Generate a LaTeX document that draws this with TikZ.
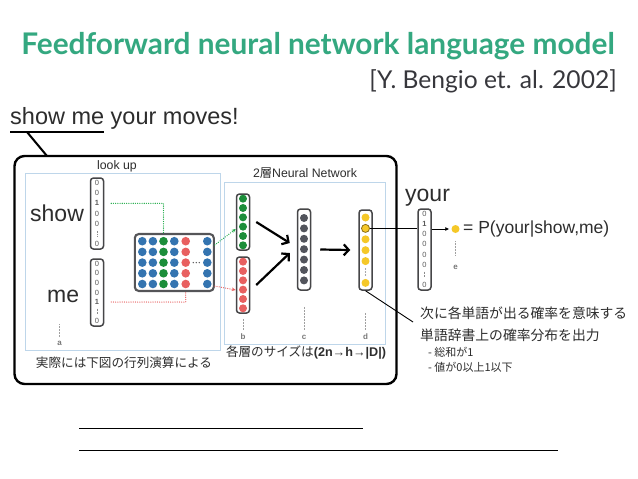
\documentclass[tikz,border=0pt]{standalone}
\usepackage{fontspec}
\setmainfont{Liberation Sans}
\newfontfamily\jpf{Noto Sans CJK JP}
\newfontfamily\latof{Lato}
\usetikzlibrary{arrows.meta,calc}
\definecolor{ttl}{RGB}{52,168,128}
\definecolor{bengc}{RGB}{55,55,60}
\definecolor{txtc}{RGB}{45,45,45}
\definecolor{vecc}{RGB}{70,70,72}
\definecolor{matc}{RGB}{85,85,88}
\definecolor{digc}{RGB}{90,90,90}
\definecolor{lblc}{RGB}{120,120,120}
\definecolor{frc}{RGB}{190,214,234}
\definecolor{blu}{RGB}{52,116,176}
\definecolor{grn}{RGB}{28,142,58}
\definecolor{grnl}{RGB}{30,170,70}
\definecolor{redc}{RGB}{232,96,96}
\definecolor{gryc}{RGB}{82,84,92}
\definecolor{ylw}{RGB}{245,200,40}
\definecolor{ylwd}{RGB}{140,110,20}
\begin{document}
\begin{tikzpicture}[x=1pt,y=-1pt,
  vecbox/.style={draw=vecc, line width=1.5, rounded corners=3, inner sep=0, minimum width=13},
  cdot/.style={circle, inner sep=0, minimum size=8},
  mdot/.style={circle, inner sep=0, minimum size=8.6},
  dig/.style={font=\fontsize{7.5}{8}\selectfont, text=digc, inner sep=0},
  vd/.style={draw=digc!70, dash pattern=on 0.8pt off 0.8pt, line width=0.6},
  lbl/.style={font=\bfseries\fontsize{8}{9}\selectfont, text=lblc, inner sep=0},
  leader/.style={draw=lblc!70, dash pattern=on 0.6pt off 0.9pt, line width=0.6},
  frame/.style={draw=frc, line width=0.8},
  bigarr/.style={line width=2.2, -{Straight Barb[length=5pt,width=11pt]}},
  gdot/.style={draw=grnl, line width=1.3, line cap=round, dash pattern=on 0pt off 2.2pt},
  rdot/.style={draw=redc, line width=1.3, line cap=round, dash pattern=on 0pt off 2.2pt},
  bigword/.style={font=\fontsize{23}{26}\selectfont, text=txtc, inner sep=0, anchor=base west},
  jptext/.style={font=\jpf\fontsize{13.8}{15}\selectfont, text=txtc, inner sep=0, anchor=west},
  jpsmall/.style={font=\jpf\fontsize{11}{12}\selectfont, text=txtc, inner sep=0, anchor=west},
  smalltext/.style={font=\fontsize{12.3}{14}\selectfont, text=txtc, inner sep=0}
]
\useasboundingbox[fill=white] (0,0) rectangle (638,479);

% title and reference
\node[font=\latof\bfseries\fontsize{29.8}{32}\selectfont, text=ttl, anchor=base, inner sep=0] (title) at (318,54) {Feedforward neural network language model};
\node[font=\latof\fontsize{24.6}{26}\selectfont, text=bengc, anchor=base east, inner sep=0] (ref) at (617,88) {[Y. Bengio et. al. 2002]};

% sentence
\node[font=\fontsize{23.5}{25}\selectfont, text=txtc, anchor=base west, inner sep=0] (sent) at (10,124) {show me your moves!};
\draw[line width=2.2] (10,132) -- (104,132);
\coordinate (ulk) at (27,132);
\coordinate (boxhook) at (47,156);
\draw[line width=2] (ulk) -- (boxhook);

% big box
\node[draw, line width=2.4, rounded corners=10, minimum width=382, minimum height=228, inner sep=0] (bigbox) at (205.5,270) {};

% frames
\draw[frame] (25,173.5) rectangle (220,350.5);
\draw[frame] (224.5,182) rectangle (385.5,344);
\node[smalltext] (lookup) at (117,166) {look up};
\node[smalltext] (nnlbl) at (305,173) {2{\jpf 層}Neural Network};
\node[font=\jpf\fontsize{12.6}{14}\selectfont, text=txtc, inner sep=0] (jp1) at (124,362.5) {実際には下図の行列演算による};
\node[font=\fontsize{12.6}{14}\selectfont, text=txtc, inner sep=0] (sizes) at (306,353) {{\jpf 各層のサイズは}\textbf{(2n→h→|D|)}};

% words
\node[bigword] (wshow) at (30,221.5) {show};
\node[bigword] (wme) at (47,302.5) {me};
\node[bigword] (wyour) at (405,201.5) {your};

% one-hot vectors
\node[vecbox, minimum height=71] (showvec) at (97,213.5) {};
\foreach \t [count=\i, evaluate=\i as \yy using 178+(\i-0.5)*10.14] in {0,0,1,0,0,v,0}{
  \if v\t \draw[vd] (97,\yy-3) -- (97,\yy+3); \else \node[dig] (show-\i) at (97,\yy) {\if 1\t\textbf{1}\else 0\fi}; \fi
}
\node[vecbox, minimum height=67] (mevec) at (97,292.5) {};
\foreach \t [count=\i, evaluate=\i as \yy using 259+(\i-0.5)*9.57] in {0,0,0,0,1,v,0}{
  \if v\t \draw[vd] (97,\yy-3) -- (97,\yy+3); \else \node[dig] (me-\i) at (97,\yy) {\if 1\t\textbf{1}\else 0\fi}; \fi
}
\node[vecbox, minimum height=81] (yourvec) at (424.5,249.5) {};
\foreach \t [count=\i, evaluate=\i as \yy using 209+(\i-0.5)*10.1] in {0,1,0,0,0,0,v,0}{
  \if v\t \draw[vd] (424.5,\yy-3) -- (424.5,\yy+3); \else \node[dig] (your-\i) at (424.5,\yy) {\if 1\t\textbf{1}\else 0\fi}; \fi
}

% embedding matrix
\node[draw=matc, line width=2.1, rounded corners=4, minimum width=79, minimum height=57, inner sep=0] (mat) at (174.3,262.5) {};
\foreach \r in {1,...,5}{
  \foreach \c/\x/\col in {1/142.3/blu,2/152.9/blu,3/163.5/grn,4/174.3/blu,5/185.7/redc,6/207.3/blu}{
    \node[mdot, fill=\col] (m-\r-\c) at (\x,{230.5+10.7*\r}) {};
  }
}
\foreach \dx in {-3,0,3} \fill[matc] (196.3+\dx,262.6) circle (0.8);

% lookup connectors
\draw[gdot] ($(showvec.east |- show-3)+(7,0)$) -| (mat.north -| m-1-3);
\draw[rdot] ($(mevec.east |- me-5)+(7,0)$) -| (mat.south -| m-5-5);

% hidden layer vectors
\node[vecbox, minimum height=56] (gvec) at (243,222) {};
\foreach \i in {1,...,6} \node[cdot, fill=grn] (g-\i) at (243,{194+(\i-0.5)*9.33}) {};
\node[vecbox, minimum height=56] (rvec) at (243,285) {};
\foreach \i in {1,...,6} \node[cdot, fill=redc] (r-\i) at (243,{257+(\i-0.5)*9.33}) {};
\node[vecbox, minimum height=81] (cvec) at (304,249.5) {};
\foreach \i in {1,...,7} \node[cdot, fill=gryc] (c-\i) at (304,{218+(\i-1)*10.4}) {};
\node[vecbox, minimum height=80] (dvec) at (365.5,250) {};
\foreach \t [count=\i, evaluate=\i as \yy using 217.5+(\i-1)*10.9] in {y,h,y,y,y,v,y}{
  \if v\t \foreach \dy in {-3,0,3} \fill[gryc] (365.5,\yy+\dy) circle (0.7);
  \else \if h\t \node[cdot, fill=ylw, draw=ylwd, line width=0.8] (d-\i) at (365.5,\yy) {};
  \else \node[cdot, fill=ylw] (d-\i) at (365.5,\yy) {}; \fi \fi
}

% matrix to embeddings
\draw[gdot, -{Stealth[length=4pt,width=3.5pt]}] ($(mat.north east)+(0,12)$) -- ([yshift=-7pt]gvec.west);
\draw[rdot, -{Stealth[length=4pt,width=3.5pt]}] ($(mat.south east)+(0,-6)$) -- ([yshift=-5pt]rvec.west);

% layer arrows
\draw[bigarr] ($(gvec.east)+(6,0)$) -- ($(cvec.west)+(-7,-6.5)$);
\draw[bigarr] ($(rvec.east)+(6,0)$) -- ($(cvec.west)+(-7,3.5)$);
\draw[bigarr] ($(cvec.east)+(9,0)$) -- ($(dvec.west)+(-8,0)$);

% output
\node[cdot, fill=ylw, minimum size=8] (ydot) at (455.5,229) {};
\draw[line width=0.9] (d-2.east) -- (yourvec.west |- d-2);
\draw[line width=0.8, -{Latex[length=4pt,width=4pt]}] (yourvec.east |- ydot) -- ([xshift=-2pt]ydot.west);
\node[font=\fontsize{17.5}{20}\selectfont, text=txtc, anchor=west, inner sep=0] (prob) at (463,229) {= P(your|show,me)};

% letter labels
\node[lbl] (la) at (59.5,343) {a};
\draw[leader] ($(la.center)+(0,-6)$) -- ++(0,-13);
\node[lbl] (lb) at (243,337) {b};
\draw[leader] ($(rvec.south)+(0,5)$) -- ($(lb.center)+(0,-7)$);
\node[lbl] (lc) at (304,337) {c};
\draw[leader] ($(cvec.south)+(0,16)$) -- ($(lc.center)+(0,-7)$);
\node[lbl] (ld) at (365.5,337) {d};
\draw[leader] ($(dvec.south)+(0,22)$) -- ($(ld.center)+(0,-7)$);
\node[lbl] (le) at (455.5,267) {e};
\draw[leader] ($(ydot.south)+(0,8)$) -- ($(le.center)+(0,-11)$);

% callout
\coordinate (callend) at (413,322);
\draw[line width=0.9] (dvec.south) -- (callend);
\node[jptext] (cl1) at (420,313) {次に各単語が出る確率を意味する};
\node[jptext] (cl2) at (420,335) {単語辞書上の確率分布を出力};
\node[jpsmall] (cl3) at (428,352) {- 総和が1};
\node[jpsmall] (cl4) at (428,367) {- 値が0以上1以下};

% bottom lines
\draw[line width=1] (79,428) -- (363,428);
\draw[line width=1] (79,450) -- (558,450);
\end{tikzpicture}
\end{document}
